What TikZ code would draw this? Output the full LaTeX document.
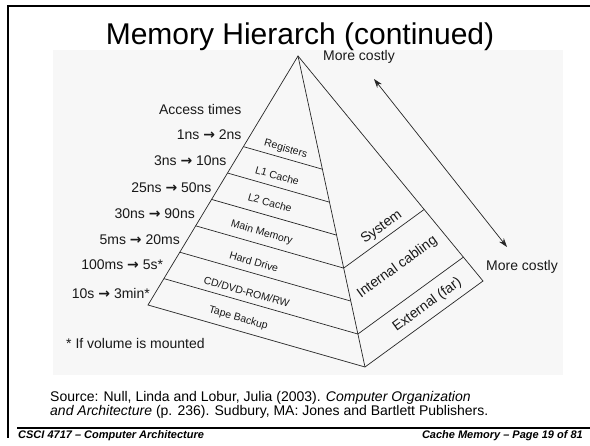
\documentclass[tikz,border=0pt]{standalone}
\usepackage{fontspec}
\setmainfont{Liberation Sans}
\newfontfamily\arrowfont{DejaVu Sans}
\usetikzlibrary{calc,arrows.meta}
\newcommand{\myra}{{\arrowfont\bfseries →}}
\begin{document}
\begin{tikzpicture}[x=1pt,y=-1pt,
  frame/.style={line width=2.2pt, draw=black},
  edge/.style={line width=0.7pt, draw=black!85},
  lbl/.style={font=\fontsize{10.5}{12}\selectfont, inner sep=0pt, rotate=-16, text=black!90},
  rlbl/.style={font=\fontsize{14}{15}\selectfont, inner sep=0pt, rotate=36, text=black!90},
  tm/.style={font=\fontsize{14}{15}\selectfont, anchor=east, inner sep=0pt, text=black!90},
  note/.style={font=\fontsize{14}{15}\selectfont, inner sep=0pt, text=black!90},
  foot/.style={font=\fontsize{11}{13}\selectfont\bfseries\itshape, inner sep=0pt},
]
\useasboundingbox (0,0) rectangle (590,446);
\fill[white] (0,0) rectangle (590,446);
\fill[black!3] (53,50) rectangle (563,375);
% slide frame
\draw[frame] (8,438) -- (8,6) -- (590,6);
\draw[frame] (17,428) -- (590,428);
% title
\node[font=\fontsize{30}{34}\selectfont, inner sep=0pt] (title) at (300,37) {Memory Hierarch (continued)};
% pyramid
\coordinate (A) at (298,56);
\coordinate (L) at (148,305);
\coordinate (B) at (365,367);
\coordinate (R) at (483,281);
\draw[edge, line join=miter] (L) -- (A) -- (R) -- (B) -- cycle;
\draw[edge] (A) -- (B);
\foreach \t in {0.364,0.470,0.576,0.682,0.788,0.894}
  \draw[edge] ($(A)!\t!(L)$) -- ($(A)!\t!(B)$);
\foreach \t in {0.682,0.894}
  \draw[edge] ($(A)!\t!(B)$) -- ($(A)!\t!(R)$);
% level labels
\node[lbl] (reg) at (285.7,149.3) {Registers};
\node[lbl] (l1) at (277.3,175.7) {L1 Cache};
\node[lbl] (l2) at (270,202.7) {L2 Cache};
\node[lbl] (mm) at (261.7,232.7) {Main Memory};
\node[lbl] (hd) at (254,261.7) {Hard Drive};
\node[lbl] (cd) at (246.7,291.7) {CD/DVD-ROM/RW};
\node[lbl] (tb) at (238.3,318.3) {Tape Backup};
\node[rlbl] (sys) at (381.7,227.3) {System};
\node[rlbl] (int) at (397.3,267.3) {Internal cabling};
\node[rlbl] (ext) at (427.3,305) {External (far)};
% access times
\node[tm] (at) at (241.7,109) {Access times};
\node[tm] (t1) at (241.7,134.7) {1ns \myra{} 2ns};
\node[tm] (t2) at (226.7,161) {3ns \myra{} 10ns};
\node[tm] (t3) at (211.7,187.5) {25ns \myra{} 50ns};
\node[tm] (t4) at (195,214) {30ns \myra{} 90ns};
\node[tm] (t5) at (180,240) {5ms \myra{} 20ms};
\node[tm] (t6) at (163.3,265) {100ms \myra{} 5s*};
\node[tm] (t7) at (150,293) {10s \myra{} 3min*};
\node[note, anchor=west] (mnt) at (66,343) {* If volume is mounted};
% cost arrow
\node[note, anchor=west] (mc1) at (323,57) {More costly};
\node[note, anchor=west] (mc2) at (486,267) {More costly};
\coordinate (ca) at (374,79);
\coordinate (cb) at (507,247);
\draw[line width=0.7pt, black!85, {Stealth[length=9pt,width=6pt]}-{Stealth[length=9pt,width=6pt]}] (ca) -- (cb);
% source
\node[font=\fontsize{14}{14}\selectfont, align=left, anchor=north west, inner sep=0pt] (src) at (50,391)
 {Source: Null, Linda and Lobur, Julia (2003). \textit{Computer Organization}\\
  \textit{and Architecture} (p. 236). Sudbury, MA: Jones and Bartlett Publishers.};
% footer
\node[foot, anchor=west] (fl) at (18,436) {CSCI 4717 – Computer Architecture};
\node[foot, anchor=east] (fr) at (583,436) {Cache Memory – Page 19 of 81};
\end{tikzpicture}
\end{document}
